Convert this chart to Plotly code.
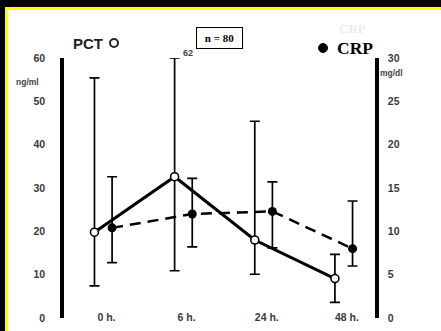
import plotly.graph_objects as go

# ---------------- data ----------------
time_labels = ["0 h.", "6 h.", "24 h.", "48 h."]
time_index = [0, 1, 2, 3]

pct_mean = [19.8, 32.6, 18.0, 9.1]      # ng/ml
pct_hi = [55.4, 62.0, 45.4, 14.7]
pct_lo = [7.4, 10.9, 10.1, 3.6]

crp_mean = [10.4, 12.0, 12.3, 8.0]      # mg/dl
crp_hi = [16.3, 16.1, 15.7, 13.5]
crp_lo = [6.4, 8.2, 8.1, 6.0]

left_ticks = [0, 10, 20, 30, 40, 50, 60]
right_ticks = [0, 5, 10, 15, 20, 25, 30]
n_label = "n = 80"

# ---------------- layout helpers ----------------
W, H = 441, 331
L, R, T, B = 64, 375, 58, 318
Y_MAX = 60
Y2_MAX = 30
X_RANGE = [-0.53, 3.35]
PCT_OFF = -0.15
CRP_OFF = 0.07


def px(x):
    return (x - L) / (R - L)


def py(y):
    return (B - y) / (B - T)


pct_x = [i + PCT_OFF for i in time_index]
crp_x = [i + CRP_OFF for i in time_index]
pct_hi_drawn = [min(v, Y_MAX) for v in pct_hi]

fig = go.Figure()

fig.add_trace(go.Scatter(
    x=crp_x, y=crp_mean, yaxis="y2", mode="lines+markers",
    line=dict(color="black", width=2.5, dash="11px,7px"),
    marker=dict(symbol="circle", size=9, color="black"),
    error_y=dict(type="data", symmetric=False,
                 array=[h - m for h, m in zip(crp_hi, crp_mean)],
                 arrayminus=[m - l for m, l in zip(crp_mean, crp_lo)],
                 color="black", thickness=1.7, width=5),
    showlegend=False, name="CRP",
))

fig.add_trace(go.Scatter(
    x=pct_x, y=pct_mean, mode="lines+markers",
    line=dict(color="black", width=3),
    marker=dict(symbol="circle", size=8, color="white",
                line=dict(color="black", width=1.6)),
    error_y=dict(type="data", symmetric=False,
                 array=[h - m for h, m in zip(pct_hi_drawn, pct_mean)],
                 arrayminus=[m - l for m, l in zip(pct_mean, pct_lo)],
                 color="black", thickness=1.7, width=5),
    showlegend=False, name="PCT",
))

tick_font = dict(family="Liberation Sans, Arial, sans-serif", size=10.5,
                 color="#3a3a3a", weight="bold")

fig.update_layout(
    width=W, height=H,
    margin=dict(l=L, r=W - R, t=T, b=H - B, pad=0, autoexpand=False),
    paper_bgcolor="white", plot_bgcolor="white",
    showlegend=False,
    xaxis=dict(range=X_RANGE, tickvals=time_index, ticktext=time_labels,
               showgrid=False, zeroline=False, showline=False, ticks="",
               anchor="free", position=0.031, tickfont=tick_font,
               automargin=False),
    yaxis=dict(range=[0, Y_MAX], tickvals=left_ticks, showgrid=False,
               zeroline=False, showline=True, linecolor="black", linewidth=3.5,
               ticks="", ticklabelstandoff=13, tickfont=tick_font,
               automargin=False),
    yaxis2=dict(range=[0, Y2_MAX], tickvals=right_ticks, overlaying="y",
                side="right", showgrid=False, zeroline=False, showline=True,
                linecolor="black", linewidth=3.5, ticks="",
                ticklabelstandoff=7, tickfont=tick_font, automargin=False),
)

shapes = [
    # top black band + yellow rule
    dict(type="rect", xref="paper", yref="paper", x0=px(0), x1=px(W),
         y0=py(7), y1=py(-2), fillcolor="black", line_width=0, layer="above"),
    dict(type="rect", xref="paper", yref="paper", x0=px(5), x1=px(W),
         y0=py(10), y1=py(7), fillcolor="#ffff00", line_width=0, layer="above"),
    # left black band + yellow rule
    dict(type="rect", xref="paper", yref="paper", x0=px(-2), x1=px(5),
         y0=py(H + 2), y1=py(0), fillcolor="black", line_width=0, layer="above"),
    dict(type="rect", xref="paper", yref="paper", x0=px(5), x1=px(8),
         y0=py(H + 2), y1=py(7), fillcolor="#ffff00", line_width=0, layer="above"),
    # PCT legend circle
    dict(type="circle", xref="paper", yref="paper", x0=px(110), x1=px(118),
         y0=py(47), y1=py(39), fillcolor="white",
         line=dict(color="#222222", width=2)),
    # CRP legend dot
    dict(type="circle", xref="paper", yref="paper", x0=px(318.5), x1=px(327.5),
         y0=py(52.5), y1=py(43.5), fillcolor="black",
         line=dict(color="black", width=1)),
]


def ann(text, x, y, size, color, family="Liberation Sans, Arial",
        xanchor="center", **kw):
    return dict(text=text, x=px(x), y=py(y), xref="paper", yref="paper",
                xanchor=xanchor, yanchor="middle", showarrow=False,
                font=dict(family=family, size=size, color=color), **kw)


serif = "Liberation Serif, Times New Roman, serif"
annotations = [
    ann("<b>PCT</b>", 88, 44, 15, "#222222"),
    ann("<b>ng/ml</b>", 27, 82, 8.5, "#444444"),
    ann("<b>mg/dl</b>", 391, 73, 8.5, "#444444"),
    ann("<b>%d</b>" % round(pct_hi[1]), 188, 53, 9, "#444444"),
    ann("<b>%s</b>" % n_label, 219.5, 38, 11, "black", family=serif,
        bordercolor="black", borderwidth=1, borderpad=0, width=45, height=20,
        bgcolor="white"),
    ann("<b>CRP</b>", 352, 29, 13, "#ececec", family=serif),
    ann("<b>CRP</b>", 335, 48, 17.5, "black", family=serif, xanchor="left"),
]

fig.update_layout(shapes=shapes, annotations=annotations)

fig.write_html("out.html", config={"displayModeBar": False},
               post_script="document.body.style.margin='0';"
                           "document.body.style.padding='0';")
